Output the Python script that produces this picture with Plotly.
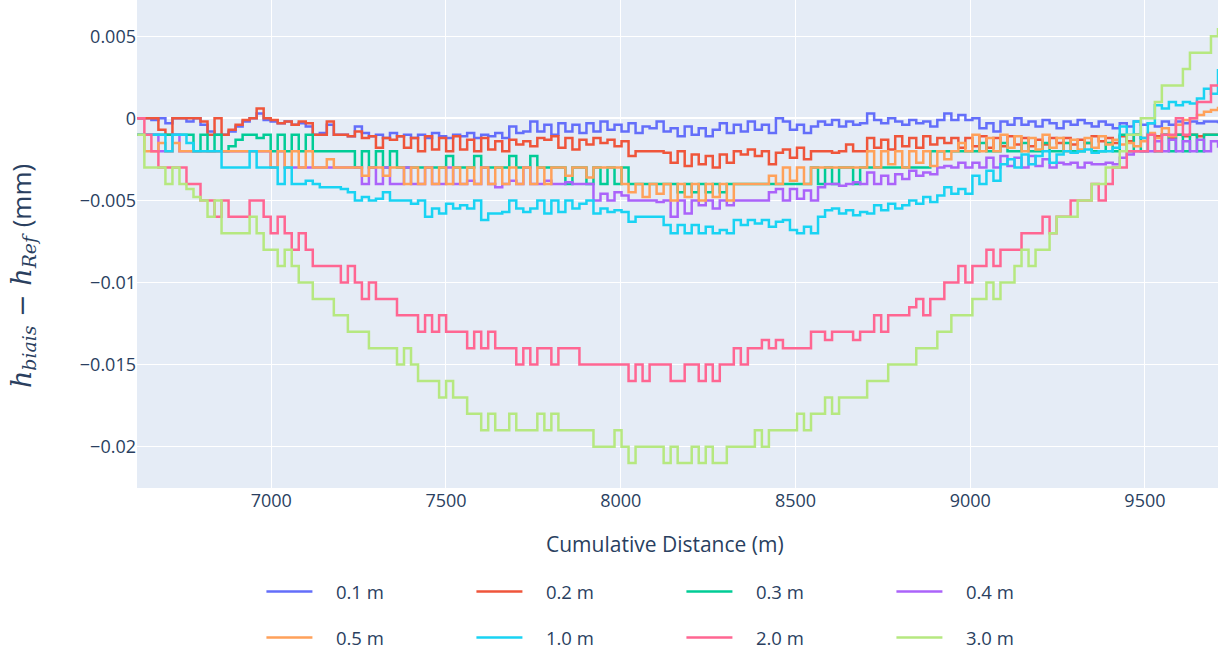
import numpy as np
import plotly.graph_objects as go

# Cumulative distance sampling (m)
distance = np.linspace(6617, 9709, 155)

legend_names = ["0.1 m", "0.2 m", "0.3 m", "0.4 m", "0.5 m", "1.0 m", "2.0 m", "3.0 m"]
colors = ["#636EFA", "#EF553B", "#00CC96", "#AB63FA", "#FFA15A", "#19D3F3", "#FF6692", "#B6E880"]

h_01 = [0.0, 0.0, -0.0001, 0.0, -0.0003, 0.0, 0.0, -0.0002, 0.0, -0.0004,
        -0.0008, -0.001, -0.001, -0.0008, -0.0005, -0.0002, 0.0, 0.0003, -0.0001, -0.0002,
        -0.0003, -0.0002, -0.0004, -0.0003, -0.0005, -0.001, -0.0009, -0.0004, -0.001, -0.001,
        -0.0011, -0.0005, -0.0009, -0.0011, -0.001, -0.0012, -0.0009, -0.0011, -0.001, -0.0012,
        -0.001, -0.0012, -0.0009, -0.0011, -0.0012, -0.001, -0.0011, -0.0009, -0.0012, -0.001,
        -0.0011, -0.0009, -0.0012, -0.0005, -0.0009, -0.0008, -0.0002, -0.0008, -0.0004, -0.001,
        -0.0003, -0.0008, -0.0004, -0.0009, -0.0003, -0.0008, -0.0002, -0.0007, -0.0004, -0.0008,
        -0.0003, -0.0009, -0.0005, -0.0006, -0.0002, -0.0008, -0.0006, -0.0011, -0.0005, -0.001,
        -0.0006, -0.0011, -0.0007, -0.0003, -0.0009, -0.0004, -0.0008, -0.0002, -0.0007, -0.0004,
        -0.0009, 0.0, -0.0002, -0.0007, -0.0004, -0.0009, -0.0005, -0.0002, -0.0004, -0.0001,
        -0.0005, -0.0002, -0.0004, -0.0003, 0.0003, -0.0001, -0.0003, 0.0, -0.0002, -0.0004,
        -0.0001, -0.0003, -0.0002, -0.0005, -0.0001, 0.0003, -0.0001, 0.0002, -0.0001, 0.0,
        -0.0006, -0.0003, -0.0008, -0.0002, -0.0004, 0.0, -0.0004, -0.0002, -0.0005, -0.0001,
        -0.0003, -0.0006, -0.0002, -0.0004, -0.0001, -0.0003, -0.0005, -0.0002, -0.0004, -0.0006,
        -0.0003, -0.0005, -0.0002, -0.0004, -0.0003, -0.0005, -0.0002, -0.0004, -0.0002, -0.0003,
        -0.0002, -0.0003, -0.0002, -0.0002, -0.0003]

h_02 = [0.0, 0.0, 0.0, -0.0007, -0.001, 0.0, 0.0, 0.0, 0.0, -0.0002,
        -0.001, 0.0, -0.001, -0.0007, -0.0004, -0.0001, 0.0, 0.0006, 0.0, -0.0001,
        -0.0003, -0.0002, -0.0004, -0.0002, -0.0003, -0.001, -0.001, -0.0002, -0.001, -0.001,
        -0.0011, -0.0008, -0.0012, -0.0011, -0.0018, -0.0012, -0.0013, -0.0011, -0.0018, -0.0012,
        -0.002, -0.0011, -0.0019, -0.0012, -0.002, -0.0011, -0.0019, -0.0013, -0.002, -0.0012,
        -0.0019, -0.0014, -0.002, -0.0013, -0.0016, -0.0014, -0.0017, -0.0012, -0.0013, -0.0011,
        -0.0018, -0.0012, -0.0019, -0.0013, -0.0016, -0.0012, -0.0015, -0.0013, -0.0017, -0.0014,
        -0.0023, -0.002, -0.002, -0.002, -0.002, -0.0021, -0.0027, -0.002, -0.0029, -0.0022,
        -0.0028, -0.0023, -0.003, -0.0022, -0.0027, -0.002, -0.0022, -0.0019, -0.0023, -0.002,
        -0.0028, -0.0021, -0.0019, -0.0024, -0.0018, -0.0025, -0.002, -0.002, -0.002, -0.0021,
        -0.002, -0.0016, -0.002, -0.002, -0.0012, -0.0018, -0.0013, -0.0019, -0.0011, -0.0017,
        -0.0012, -0.0018, -0.0011, -0.0016, -0.0012, -0.0015, -0.0012, -0.0018, -0.0012, -0.0017,
        -0.0011, -0.0018, -0.0012, -0.0017, -0.0011, -0.0016, -0.0012, -0.0017, -0.0013, -0.0016,
        -0.0012, -0.0015, -0.0012, -0.0016, -0.0013, -0.0015, -0.0011, -0.0014, -0.0012, -0.0015,
        -0.0011, -0.0014, -0.001, -0.0012, -0.001, -0.0011, -0.001, -0.0012, -0.001, -0.0011,
        -0.001, -0.0011, -0.001, -0.001, -0.001]

h_03 = [-0.001, -0.001, -0.001, -0.001, -0.001, -0.001, -0.001, -0.001, -0.002, -0.001,
        -0.002, -0.001, -0.002, -0.0017, -0.0013, -0.001, -0.001, -0.0012, -0.001, -0.002,
        -0.001, -0.002, -0.001, -0.002, -0.001, -0.002, -0.002, -0.002, -0.002, -0.002,
        -0.002, -0.003, -0.002, -0.003, -0.002, -0.003, -0.002, -0.003, -0.003, -0.003,
        -0.003, -0.003, -0.003, -0.003, -0.0023, -0.003, -0.003, -0.003, -0.0023, -0.003,
        -0.003, -0.003, -0.003, -0.0023, -0.003, -0.003, -0.0023, -0.003, -0.003, -0.003,
        -0.003, -0.004, -0.003, -0.003, -0.004, -0.003, -0.004, -0.003, -0.004, -0.003,
        -0.004, -0.004, -0.004, -0.004, -0.004, -0.004, -0.004, -0.0045, -0.004, -0.0045,
        -0.004, -0.0045, -0.004, -0.0045, -0.004, -0.004, -0.004, -0.004, -0.004, -0.004,
        -0.004, -0.004, -0.004, -0.004, -0.004, -0.004, -0.003, -0.004, -0.003, -0.004,
        -0.003, -0.003, -0.004, -0.003, -0.003, -0.003, -0.003, -0.003, -0.003, -0.003,
        -0.003, -0.003, -0.003, -0.002, -0.002, -0.002, -0.002, -0.002, -0.002, -0.002,
        -0.0015, -0.002, -0.002, -0.0015, -0.002, -0.002, -0.0015, -0.002, -0.002, -0.0015,
        -0.002, -0.002, -0.0015, -0.002, -0.002, -0.0015, -0.002, -0.002, -0.0015, -0.002,
        -0.001, -0.002, -0.001, -0.002, -0.001, -0.002, -0.001, -0.002, -0.001, -0.002,
        -0.001, -0.002, -0.001, -0.001, -0.001]

h_04 = [-0.001, -0.001, -0.001, -0.002, -0.002, -0.001, -0.002, -0.002, -0.002, -0.002,
        -0.002, -0.002, -0.002, -0.002, -0.002, -0.002, -0.002, -0.002, -0.002, -0.003,
        -0.002, -0.003, -0.003, -0.003, -0.003, -0.003, -0.003, -0.003, -0.003, -0.003,
        -0.003, -0.003, -0.004, -0.003, -0.004, -0.003, -0.004, -0.004, -0.003, -0.004,
        -0.004, -0.003, -0.004, -0.004, -0.003, -0.004, -0.004, -0.0038, -0.004, -0.003,
        -0.004, -0.0042, -0.004, -0.0038, -0.004, -0.003, -0.004, -0.004, -0.0038, -0.004,
        -0.004, -0.0039, -0.004, -0.004, -0.004, -0.005, -0.0046, -0.005, -0.0045, -0.0047,
        -0.005, -0.005, -0.005, -0.005, -0.0051, -0.005, -0.006, -0.005, -0.0058, -0.005,
        -0.0053, -0.005, -0.0055, -0.005, -0.0053, -0.005, -0.005, -0.005, -0.005, -0.005,
        -0.0045, -0.0043, -0.005, -0.0043, -0.0049, -0.0044, -0.005, -0.0042, -0.004, -0.004,
        -0.0041, -0.004, -0.0039, -0.004, -0.0033, -0.004, -0.0035, -0.004, -0.0034, -0.0037,
        -0.0032, -0.0035, -0.0033, -0.0034, -0.003, -0.0029, -0.003, -0.0027, -0.003, -0.0027,
        -0.003, -0.0024, -0.003, -0.0023, -0.0029, -0.0024, -0.003, -0.0023, -0.0029, -0.0025,
        -0.003, -0.0027, -0.0028, -0.0027, -0.003, -0.0027, -0.0028, -0.0028, -0.0027, -0.0028,
        -0.0024, -0.0022, -0.002, -0.002, -0.002, -0.0014, -0.002, -0.0013, -0.002, -0.0014,
        -0.002, -0.0013, -0.002, -0.0014, -0.0018]

h_05 = [-0.001, -0.002, -0.002, -0.0015, -0.002, -0.0015, -0.002, -0.002, -0.002, -0.002,
        -0.002, -0.002, -0.002, -0.002, -0.002, -0.002, -0.002, -0.002, -0.002, -0.003,
        -0.002, -0.003, -0.002, -0.003, -0.002, -0.003, -0.003, -0.0025, -0.003, -0.003,
        -0.003, -0.003, -0.0035, -0.003, -0.003, -0.0035, -0.003, -0.003, -0.004, -0.003,
        -0.004, -0.003, -0.004, -0.003, -0.004, -0.003, -0.004, -0.003, -0.004, -0.003,
        -0.004, -0.003, -0.004, -0.003, -0.004, -0.003, -0.004, -0.003, -0.004, -0.003,
        -0.003, -0.0035, -0.003, -0.003, -0.0036, -0.003, -0.003, -0.003, -0.003, -0.004,
        -0.0045, -0.004, -0.0048, -0.004, -0.0046, -0.004, -0.005, -0.004, -0.0048, -0.004,
        -0.005, -0.004, -0.0048, -0.004, -0.005, -0.004, -0.004, -0.004, -0.004, -0.004,
        -0.0035, -0.004, -0.003, -0.0038, -0.003, -0.004, -0.003, -0.003, -0.003, -0.003,
        -0.003, -0.003, -0.003, -0.003, -0.002, -0.003, -0.002, -0.0028, -0.002, -0.003,
        -0.002, -0.0027, -0.002, -0.0029, -0.002, -0.0025, -0.002, -0.0015, -0.002, -0.001,
        -0.002, -0.0012, -0.002, -0.001, -0.0018, -0.0011, -0.002, -0.0012, -0.0019, -0.001,
        -0.0018, -0.0012, -0.002, -0.0013, -0.0019, -0.0012, -0.0018, -0.0011, -0.0016, -0.0013,
        -0.0016, -0.0015, -0.0017, -0.0014, -0.0009, -0.0012, -0.0006, -0.0011, -0.0004, -0.0001,
        0.0, 0.0002, 0.0004, 0.0005, 0.0007]

h_10 = [-0.001, -0.001, -0.001, -0.001, -0.002, -0.001, -0.001, -0.0015, -0.002, -0.002,
        -0.002, -0.002, -0.003, -0.003, -0.003, -0.003, -0.002, -0.003, -0.003, -0.003,
        -0.004, -0.003, -0.004, -0.004, -0.0038, -0.004, -0.0042, -0.0042, -0.0042, -0.0043,
        -0.0045, -0.005, -0.0048, -0.005, -0.0049, -0.0045, -0.005, -0.005, -0.005, -0.0052,
        -0.005, -0.006, -0.0055, -0.0058, -0.0052, -0.0055, -0.0053, -0.0055, -0.005, -0.0062,
        -0.0058, -0.0058, -0.0057, -0.005, -0.0055, -0.0057, -0.0055, -0.005, -0.0058, -0.005,
        -0.0057, -0.005, -0.0055, -0.0052, -0.005, -0.0058, -0.0055, -0.0057, -0.0056, -0.0057,
        -0.0063, -0.006, -0.006, -0.006, -0.006, -0.0065, -0.007, -0.0065, -0.007, -0.0065,
        -0.007, -0.0066, -0.007, -0.0068, -0.007, -0.0062, -0.0065, -0.0062, -0.0064, -0.0062,
        -0.0066, -0.0063, -0.0062, -0.0068, -0.007, -0.0066, -0.007, -0.006, -0.0056, -0.0055,
        -0.0058, -0.0056, -0.0059, -0.0057, -0.0058, -0.0053, -0.0056, -0.0052, -0.0055, -0.0053,
        -0.005, -0.0052, -0.0048, -0.0051, -0.0047, -0.0042, -0.0046, -0.0043, -0.0046, -0.0035,
        -0.004, -0.0032, -0.0038, -0.0028, -0.0025, -0.003, -0.0022, -0.0028, -0.0023, -0.002,
        -0.0027, -0.0022, -0.002, -0.0021, -0.002, -0.0019, -0.0021, -0.002, -0.002, -0.0018,
        -0.0005, -0.001, -0.0002, -0.0012, -0.0003, 0.0008, 0.0006, 0.001, 0.0008, 0.001,
        0.0009, 0.0012, 0.0018, 0.0015, 0.003]

h_20 = [0.0, -0.001, -0.002, -0.003, -0.003, -0.003, -0.003, -0.004, -0.004, -0.005,
        -0.005, -0.006, -0.005, -0.006, -0.006, -0.006, -0.005, -0.005, -0.006, -0.007,
        -0.006, -0.007, -0.008, -0.007, -0.008, -0.009, -0.009, -0.009, -0.009, -0.010,
        -0.009, -0.010, -0.011, -0.010, -0.011, -0.011, -0.011, -0.012, -0.012, -0.012,
        -0.013, -0.012, -0.013, -0.012, -0.013, -0.013, -0.013, -0.014, -0.013, -0.014,
        -0.013, -0.014, -0.014, -0.014, -0.015, -0.014, -0.015, -0.014, -0.014, -0.015,
        -0.014, -0.014, -0.014, -0.015, -0.015, -0.015, -0.015, -0.015, -0.015, -0.015,
        -0.016, -0.015, -0.016, -0.015, -0.015, -0.015, -0.016, -0.016, -0.015, -0.015,
        -0.016, -0.015, -0.016, -0.015, -0.015, -0.014, -0.015, -0.014, -0.014, -0.0135,
        -0.014, -0.0135, -0.014, -0.014, -0.014, -0.014, -0.013, -0.013, -0.0135, -0.013,
        -0.013, -0.013, -0.0135, -0.013, -0.013, -0.012, -0.013, -0.012, -0.012, -0.012,
        -0.0115, -0.011, -0.012, -0.011, -0.011, -0.010, -0.010, -0.009, -0.010, -0.009,
        -0.009, -0.008, -0.009, -0.008, -0.008, -0.008, -0.007, -0.007, -0.007, -0.006,
        -0.007, -0.006, -0.006, -0.005, -0.005, -0.005, -0.004, -0.005, -0.004, -0.003,
        -0.003, -0.002, -0.002, -0.002, -0.001, -0.002, -0.001, -0.001, 0.0, -0.001,
        0.0, 0.001, 0.001, 0.002, 0.002]

h_30 = [-0.001, -0.003, -0.003, -0.003, -0.004, -0.003, -0.004, -0.0043, -0.0048, -0.005,
        -0.006, -0.005, -0.007, -0.007, -0.007, -0.007, -0.006, -0.007, -0.008, -0.008,
        -0.009, -0.008, -0.009, -0.010, -0.010, -0.011, -0.011, -0.011, -0.012, -0.012,
        -0.013, -0.013, -0.013, -0.014, -0.014, -0.014, -0.014, -0.015, -0.014, -0.015,
        -0.016, -0.016, -0.016, -0.017, -0.016, -0.017, -0.017, -0.018, -0.018, -0.019,
        -0.018, -0.019, -0.019, -0.018, -0.019, -0.019, -0.019, -0.018, -0.019, -0.018,
        -0.019, -0.019, -0.019, -0.019, -0.019, -0.020, -0.020, -0.020, -0.019, -0.020,
        -0.021, -0.020, -0.020, -0.020, -0.020, -0.021, -0.020, -0.021, -0.021, -0.020,
        -0.021, -0.020, -0.021, -0.021, -0.020, -0.020, -0.020, -0.020, -0.019, -0.020,
        -0.019, -0.019, -0.019, -0.019, -0.018, -0.019, -0.018, -0.018, -0.017, -0.018,
        -0.017, -0.017, -0.017, -0.017, -0.016, -0.016, -0.016, -0.015, -0.015, -0.015,
        -0.015, -0.014, -0.014, -0.014, -0.013, -0.013, -0.012, -0.012, -0.012, -0.011,
        -0.011, -0.010, -0.011, -0.010, -0.010, -0.009, -0.008, -0.009, -0.008, -0.008,
        -0.007, -0.006, -0.006, -0.006, -0.005, -0.005, -0.004, -0.004, -0.003, -0.003,
        -0.002, -0.001, -0.001, 0.0, 0.0, 0.001, 0.002, 0.002, 0.002, 0.003,
        0.004, 0.004, 0.004, 0.005, 0.0055]

series = [h_01, h_02, h_03, h_04, h_05, h_10, h_20, h_30]

fig = go.Figure()
for i, (name, vals, col) in enumerate(zip(legend_names, series, colors)):
    fig.add_trace(go.Scatter(
        x=distance, y=vals, mode="lines",
        name="\u2002\u2002" + name,
        line=dict(color=col, width=2.5, shape="hv"),
        legend="legend" if i < 4 else "legend2",
    ))

legend_common = dict(
    orientation="h", xanchor="left", yanchor="middle",
    entrywidth=149, entrywidthmode="pixels", itemwidth=46,
    font=dict(size=18.5, color="#2a3f5f"), bgcolor="rgba(0,0,0,0)",
)

ytitle = ('<i>h</i><sub><i>biais</i></sub> − <i>h</i><sub><i>Ref</i></sub> '
          '<span style="font-family:\'Open Sans\';font-size:26px">(mm)</span>')

fig.update_layout(
    template="plotly",
    width=1219, height=651,
    margin=dict(l=137, r=1, t=0, b=163, autoexpand=False),
    font=dict(family="Open Sans, verdana, arial, sans-serif", size=18, color="#2a3f5f"),
    xaxis=dict(
        range=[6616, 9709], dtick=500, tick0=0, automargin=False,
        tickfont=dict(size=18),
    ),
    yaxis=dict(
        range=[-0.022515, 0.007205], dtick=0.005, tick0=0, automargin=False,
        tickfont=dict(size=18),
    ),
    legend=dict(x=0.1151, y=-0.2131, **legend_common),
    legend2=dict(x=0.1151, y=-0.3074, **legend_common),
    annotations=[
        dict(
            text=ytitle, textangle=-90, xref="paper", yref="paper",
            x=-0.1065, y=0.434, xanchor="center", yanchor="middle", showarrow=False,
            font=dict(family="DejaVu Serif", size=27, color="#2a3f5f"),
        ),
        dict(
            text="Cumulative Distance (m)", xref="paper", yref="paper",
            x=0.4884, y=-0.1148, xanchor="center", yanchor="middle", showarrow=False,
            font=dict(size=21, color="#2a3f5f"),
        ),
    ],
)

fig.write_html("out.html", config={"displayModeBar": False},
               post_script="document.body.style.margin='0';")
